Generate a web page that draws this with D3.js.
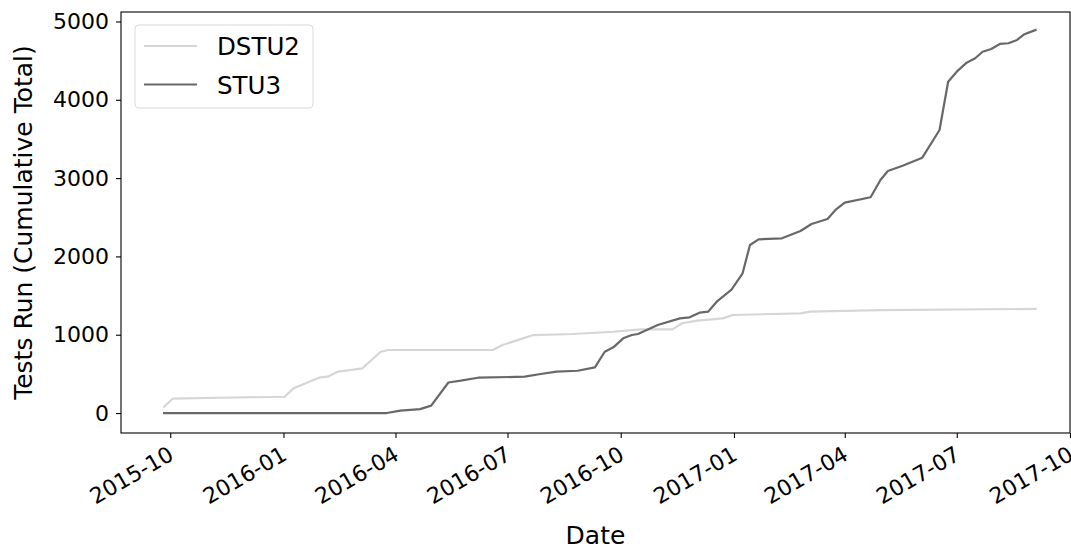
<!DOCTYPE html>
<html lang="en">
<head>
<meta charset="UTF-8">
<script src="https://d3js.org/d3.v7.min.js"></script>
<style>
  body { margin: 0; background: #fff; }
  svg text { font-family: "DejaVu Sans", sans-serif; fill: #000; }
</style>
</head>
<body>
<svg id="chart" width="1071" height="550"></svg>
<script>
// data
var dstu2Dates = ["2015-09-26","2015-10-03","2015-11-11","2016-01-02","2016-01-09","2016-01-20","2016-01-31",
  "2016-02-06","2016-02-14","2016-02-24","2016-03-05","2016-03-11","2016-03-20","2016-03-26","2016-06-19",
  "2016-06-27","2016-07-11","2016-07-22","2016-08-23","2016-09-25","2016-10-17","2016-11-12","2016-11-20",
  "2016-12-02","2016-12-23","2016-12-31","2017-02-24","2017-03-04","2017-04-30","2017-09-03"];
var dstu2Values = [80,183,195,208,315,387,456,464,528,549,571,655,783,805,805,868,941,996,1009,1038,1069,
  1069,1146,1179,1209,1252,1273,1294,1315,1330];

var stu3Dates = ["2015-09-26","2016-03-25","2016-04-05","2016-04-21","2016-04-30","2016-05-14","2016-05-24",
  "2016-06-07","2016-07-15","2016-07-28","2016-08-10","2016-08-27","2016-09-10","2016-09-18","2016-09-25",
  "2016-10-03","2016-10-10","2016-10-15","2016-10-31","2016-11-18","2016-11-26","2016-12-04","2016-12-11",
  "2016-12-18","2016-12-30","2017-01-08","2017-01-14","2017-01-21","2017-02-09","2017-02-24","2017-03-05",
  "2017-03-18","2017-03-25","2017-04-01","2017-04-22","2017-04-30","2017-05-06","2017-05-18","2017-06-03",
  "2017-06-17","2017-06-24","2017-07-01","2017-07-09","2017-07-16","2017-07-22","2017-07-29","2017-08-05",
  "2017-08-12","2017-08-19","2017-08-25","2017-09-03"];
var stu3Values = [0,0,30,50,94,390,413,451,464,498,528,540,584,783,839,954,996,1009,1124,1209,1222,1281,
  1294,1422,1575,1784,2146,2218,2231,2324,2414,2478,2601,2686,2755,2976,3091,3158,3261,3614,4231,4359,
  4474,4530,4614,4649,4713,4722,4764,4837,4891];

var xTicks = ["2015-10-01","2016-01-01","2016-04-01","2016-07-01","2016-10-01","2017-01-01","2017-04-01","2017-07-01","2017-10-01"];
var yTicks = [0,1000,2000,3000,4000,5000];

var seriesNames = ["DSTU2","STU3"];
var seriesColors = ["#d6d6d6","#686868"];

(function() {
  var parse = d3.utcParse("%Y-%m-%d");
  var fmt = d3.utcFormat("%Y-%m");

  var mLeft = 121, mRight = 1070, mTop = 12, mBottom = 433;
  var svg = d3.select("#chart");

  var x = d3.scaleUtc()
    .domain([parse("2015-08-22"), parse("2017-10-01")])
    .range([mLeft, mRight]);
  var y = d3.scaleLinear()
    .domain([-255, 5121])
    .range([mBottom, mTop]);

  var series = [
    dstu2Dates.map(function(d, i) { return { date: parse(d), value: dstu2Values[i] }; }),
    stu3Dates.map(function(d, i) { return { date: parse(d), value: stu3Values[i] }; })
  ];

  var line = d3.line()
    .x(function(d) { return x(d.date); })
    .y(function(d) { return y(d.value); });

  series.forEach(function(s, i) {
    svg.append("path")
      .datum(s)
      .attr("fill", "none")
      .attr("stroke", seriesColors[i])
      .attr("stroke-width", 2.2)
      .attr("stroke-linejoin", "round")
      .attr("stroke-linecap", "square")
      .attr("d", line);
  });

  // axes
  var xAxis = svg.append("g")
    .attr("transform", "translate(0," + mBottom + ")")
    .call(d3.axisBottom(x).tickValues(xTicks.map(parse)).tickFormat(fmt).tickSize(5).tickPadding(5));
  xAxis.select(".domain").remove();
  xAxis.selectAll("line").attr("stroke", "#000").attr("stroke-width", 1.1);
  xAxis.selectAll("text")
    .attr("font-size", 22)
    .attr("text-anchor", "end")
    .attr("x", -4)
    .attr("dy", "0.72em")
    .attr("transform", function() {
      return "rotate(-30 0 " + d3.select(this).attr("y") + ")";
    });

  var yAxis = svg.append("g")
    .attr("transform", "translate(" + mLeft + ",0)")
    .call(d3.axisLeft(y).tickValues(yTicks).tickFormat(d3.format("d")).tickSize(5).tickPadding(7));
  yAxis.select(".domain").remove();
  yAxis.selectAll("line").attr("stroke", "#000").attr("stroke-width", 1.1);
  yAxis.selectAll("text").attr("font-size", 22);

  svg.append("rect")
    .attr("x", mLeft).attr("y", mTop)
    .attr("width", mRight - mLeft).attr("height", mBottom - mTop)
    .attr("fill", "none").attr("stroke", "#000").attr("stroke-width", 1.1);

  // axis labels
  svg.append("text")
    .attr("x", (mLeft + mRight) / 2).attr("y", 544)
    .attr("text-anchor", "middle").attr("font-size", 25)
    .text("Date");
  svg.append("text")
    .attr("transform", "translate(32," + (mTop + mBottom) / 2 + ") rotate(-90)")
    .attr("text-anchor", "middle").attr("font-size", 25)
    .text("Tests Run (Cumulative Total)");

  // legend
  var legend = svg.append("g");
  legend.append("rect")
    .attr("x", 135).attr("y", 25).attr("width", 178).attr("height", 83)
    .attr("rx", 4)
    .attr("fill", "#fff").attr("fill-opacity", 0.8)
    .attr("stroke", "#d9d9d9").attr("stroke-width", 1);
  seriesNames.forEach(function(name, i) {
    var ly = 46 + i * 38.5;
    legend.append("line")
      .attr("x1", 144).attr("x2", 197).attr("y1", ly).attr("y2", ly)
      .attr("stroke", seriesColors[i]).attr("stroke-width", 2.2);
    legend.append("text")
      .attr("x", 217).attr("y", ly + 9)
      .attr("font-size", 24.5)
      .text(name);
  });
})();
</script>
</body>
</html>
